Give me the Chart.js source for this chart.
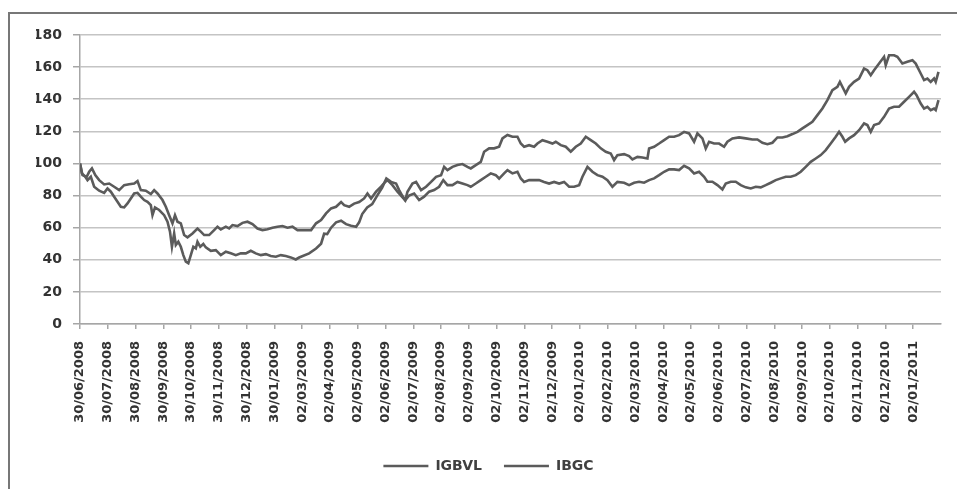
<!DOCTYPE html>
<html>
<head>
<meta charset="utf-8">
<script src="https://cdn.jsdelivr.net/npm/chart.js@4/dist/chart.umd.min.js"></script>
<style>
  html, body { margin: 0; padding: 0; background: #ffffff; overflow: hidden; }
  #wrap { position: absolute; left: 0; top: 0; width: 957px; height: 489px; }
</style>
</head>
<body>
<div id="wrap"><canvas id="c" width="957" height="489"></canvas></div>
<script>
// Tick labels (one per month index on the x axis)
const dateLabels = [
  "30/06/2008","30/07/2008","30/08/2008","30/09/2008","30/10/2008","30/11/2008","30/12/2008",
  "30/01/2009","02/03/2009","02/04/2009","02/05/2009","02/06/2009","02/07/2009","02/08/2009",
  "02/09/2009","02/10/2009","02/11/2009","02/12/2009","02/01/2010","02/02/2010","02/03/2010",
  "02/04/2010","02/05/2010","02/06/2010","02/07/2010","02/08/2010","02/09/2010","02/10/2010",
  "02/11/2010","02/12/2010","02/01/2011"
];
const seriesNames = ["IGBVL", "IBGC"];

// IGBVL: position (in label-interval units) and value
const igbvlX = [0,0.07,0.19,0.27,0.39,0.51,0.69,0.87,0.99,1.11,1.23,1.35,1.47,1.59,1.71,1.83,1.95,2.07,2.19,2.31,2.43,2.55,2.61,2.70,2.85,3.03,3.15,3.24,3.31,3.39,3.45,3.54,3.63,3.72,3.81,3.90,3.99,4.08,4.17,4.23,4.33,4.44,4.53,4.71,4.89,5.07,5.25,5.43,5.61,5.79,5.97,6.15,6.33,6.51,6.69,6.87,7.05,7.23,7.41,7.59,7.77,7.89,8.25,8.50,8.68,8.79,8.90,9.04,9.22,9.40,9.58,9.76,9.94,10.05,10.16,10.34,10.52,10.70,10.88,11.03,11.20,11.38,11.49,11.60,11.71,11.85,12.03,12.21,12.39,12.57,12.75,12.93,13.08,13.23,13.41,13.59,13.77,13.95,14.07,14.25,14.43,14.61,14.79,14.97,15.09,15.27,15.39,15.57,15.75,15.87,15.99,16.17,16.35,16.53,16.71,16.89,17.07,17.25,17.43,17.61,17.79,17.97,18.09,18.27,18.45,18.63,18.81,18.99,19.17,19.35,19.59,19.77,19.95,20.13,20.31,20.49,20.67,20.85,21.03,21.21,21.39,21.57,21.75,21.93,22.11,22.29,22.47,22.59,22.77,22.95,23.13,23.25,23.43,23.61,23.79,23.97,24.15,24.33,24.51,24.69,24.87,25.05,25.23,25.41,25.59,25.77,25.95,26.13,26.31,26.49,26.67,26.85,27.03,27.21,27.33,27.45,27.55,27.69,27.87,28.05,28.23,28.35,28.47,28.59,28.77,28.95,29.13,29.31,29.49,29.67,29.85,30.03,30.12,30.27,30.39,30.51,30.63,30.75,30.81,30.91];
const igbvlY = [100,93.8,91.7,89.6,91.7,85.5,83,81.7,84.4,82.4,79.3,76.1,73,72.6,75.1,78.2,81.3,81.7,79.3,77.2,76.1,74,67.8,72.6,71,67.8,63.7,57.5,48.1,56.4,49.2,51.2,48.1,42.9,38.8,37.8,42.9,48.1,47.1,51.2,48.1,49.8,47.7,45.6,46,42.9,45,44,42.9,44,44,45.6,44,42.9,43.5,42.3,41.9,42.9,42.3,41.5,40.2,41.4,44,47,50,56.2,56,60,63.3,64.3,62.2,61.2,60.6,63.3,68.5,72.6,74.7,80,85,90.6,88.5,87.5,83.4,80,77,80,81.3,77.2,79.3,82.4,83.4,85.5,89.6,86.5,86.5,88.5,87.5,86.5,85.5,87.5,89.6,91.7,93.8,92.7,90.6,93.8,95.8,93.8,94.8,90.6,88.5,89.6,89.6,89.6,88.5,87.5,88.5,87.5,88.5,85.5,85.5,86.5,91.7,97.9,94.8,92.7,91.7,89.6,85.5,88.5,88,86.5,88,88.6,88,89.6,90.7,92.7,94.8,96.3,96.3,95.9,98.5,96.9,93.8,94.8,91.7,88.6,88.6,86.5,83.8,87.5,88.6,88.6,86.5,85.1,84.4,85.5,85.1,86.5,88,89.6,90.7,91.7,91.7,92.7,94.8,97.9,101,103.1,105.2,108.3,112.4,116.6,119.7,116.6,113.5,115.6,117.6,120.7,124.9,123.9,119.7,123.9,124.9,129,134.2,135.3,135.3,138.4,141.5,144.6,142.5,137.3,134.2,135.3,133.2,134.2,133.2,139.4];

// IBGC: position (in label-interval units) and value
const ibgcX = [0,0.09,0.24,0.33,0.43,0.55,0.69,0.87,1.05,1.23,1.41,1.59,1.77,1.95,2.07,2.19,2.37,2.55,2.67,2.79,2.97,3.09,3.21,3.33,3.42,3.51,3.63,3.75,3.87,4.05,4.23,4.35,4.47,4.65,4.83,4.95,5.07,5.25,5.37,5.49,5.67,5.85,6.03,6.21,6.39,6.57,6.75,6.93,7.11,7.29,7.47,7.65,7.83,8.14,8.32,8.50,8.68,8.86,9.04,9.22,9.40,9.51,9.69,9.87,10.05,10.23,10.35,10.48,10.66,10.84,10.99,11.07,11.25,11.43,11.59,11.71,11.79,11.97,12.10,12.28,12.46,12.64,12.82,13.00,13.11,13.23,13.41,13.59,13.77,13.95,14.07,14.25,14.43,14.55,14.73,14.91,15.09,15.21,15.39,15.57,15.75,15.87,15.99,16.17,16.35,16.47,16.65,16.83,17.01,17.13,17.31,17.49,17.67,17.85,18.03,18.21,18.39,18.57,18.75,18.93,19.11,19.23,19.35,19.59,19.77,19.89,20.07,20.25,20.43,20.49,20.67,20.85,21.03,21.21,21.39,21.57,21.75,21.93,22.11,22.23,22.41,22.53,22.65,22.83,23.01,23.19,23.31,23.49,23.73,23.97,24.21,24.39,24.57,24.75,24.93,25.11,25.29,25.47,25.65,25.83,26.01,26.19,26.37,26.55,26.73,26.91,27.09,27.27,27.36,27.48,27.57,27.69,27.87,28.05,28.23,28.35,28.47,28.59,28.77,28.95,29.01,29.13,29.31,29.43,29.61,29.79,29.97,30.09,30.27,30.39,30.51,30.63,30.75,30.81,30.91];
const ibgcY = [100,92.7,91.7,94.8,96.9,92.7,89.6,86.9,87.5,85.5,83.4,86.5,87,87.5,89,83.4,83,80.9,83.4,81.3,77.2,73,67.8,62.7,67.8,63.7,62.7,55.4,54,56.4,59.5,57.5,55.4,55.4,58.5,60.6,58.9,60.6,59.5,61.6,61,63,63.7,62.2,59.5,58.5,59,60,60.6,61,60,60.6,58.5,58.5,58.5,62.7,64.7,68.9,72,73,76,74,73,75,76,78.2,81.3,78.2,82.4,85.5,88.5,89.6,86.5,82.4,79.3,77,82.4,87.5,88.5,83.4,85.5,88.5,91.7,92.7,97.9,95.8,97.9,99,99.6,97.9,96.9,99,101,107.3,109.4,109.4,110.4,115.6,117.7,116.6,116.6,112.4,110.4,111.4,110.4,112.4,114.5,113.5,112.4,113.5,111.4,110.4,107.3,110.4,112.4,116.6,114.5,112.4,109.4,107.3,106.2,102.1,105.2,105.8,104.6,102.5,104.1,103.7,103.1,109.3,110.4,112.4,114.5,116.6,116.6,117.6,119.7,118.7,113.5,118.7,115.6,109.3,113.5,112.4,112.4,110.4,113.5,115.6,116.2,115.6,114.9,114.9,112.9,112,112.9,116.2,116.2,117,118.3,119.7,121.8,123.9,125.9,130.1,134.2,139.4,145.6,147.7,150.8,146.7,143.6,147.7,150.8,152.9,159.1,158.1,155,158.1,162.2,166.4,161.2,167.4,167.4,166.4,162.2,163.3,164.3,162.2,156,151.9,152.9,150.8,152.9,150.8,157];

// y-axis range
const yMin = 0, yMax = 180, yStep = 20;

const toPts = (xs, ys) => xs.map((x, i) => ({ x: x, y: ys[i] }));
const lineColor = '#5b5b5b';
const FONT = 'DejaVu Sans';

const framePlugin = {
  id: 'frame',
  afterDraw(chart) {
    const ctx = chart.ctx;
    ctx.save();
    ctx.strokeStyle = '#777777';
    ctx.lineWidth = 2;
    ctx.beginPath();
    ctx.moveTo(9, chart.height);
    ctx.lineTo(9, 13);
    ctx.lineTo(chart.width, 13);
    ctx.stroke();
    ctx.restore();
  }
};

new Chart(document.getElementById('c'), {
  type: 'line',
  data: {
    datasets: [
      { label: seriesNames[0], data: toPts(igbvlX, igbvlY), borderColor: lineColor, backgroundColor: lineColor,
        borderWidth: 2.6, pointRadius: 0, tension: 0, pointStyle: 'line' },
      { label: seriesNames[1], data: toPts(ibgcX, ibgcY), borderColor: lineColor, backgroundColor: lineColor,
        borderWidth: 2.6, pointRadius: 0, tension: 0, pointStyle: 'line' }
    ]
  },
  plugins: [framePlugin],
  options: {
    responsive: false,
    animation: false,
    events: [],
    layout: { padding: { left: 36, right: 16, top: 35, bottom: 6 } },
    plugins: {
      tooltip: { enabled: false },
      legend: {
        position: 'bottom',
        labels: {
          usePointStyle: true,
          pointStyleWidth: 45,
          padding: 22,
          color: '#404040',
          font: { family: FONT, size: 14, weight: 'bold' }
        }
      }
    },
    scales: {
      x: {
        type: 'linear',
        min: 0,
        max: dateLabels.length,
        afterBuildTicks: (s) => { s.ticks = dateLabels.map((_, i) => ({ value: i })); },
        afterFit: (s) => { s.height = 113; },
        border: { display: true, color: '#a6a6a6', width: 1.5 },
        grid: { drawOnChartArea: false, drawTicks: true, tickLength: 5, tickColor: '#a6a6a6', lineWidth: 1.5 },
        ticks: {
          autoSkip: false,
          maxRotation: 90,
          minRotation: 90,
          padding: 12,
          color: '#333333',
          font: { family: FONT, size: 13, weight: 'bold' },
          callback: (v) => dateLabels[v] !== undefined ? dateLabels[v] : ''
        }
      },
      y: {
        min: yMin,
        max: yMax,
        afterFit: (s) => { s.width = 44; },
        border: { display: true, color: '#a6a6a6', width: 1.5 },
        grid: { color: '#c4c4c4', lineWidth: 1.5, tickLength: 7, tickColor: '#a6a6a6' },
        ticks: {
          stepSize: yStep,
          padding: 11,
          color: '#333333',
          font: { family: FONT, size: 14, weight: 'bold' }
        }
      }
    }
  }
});
</script>
</body>
</html>
